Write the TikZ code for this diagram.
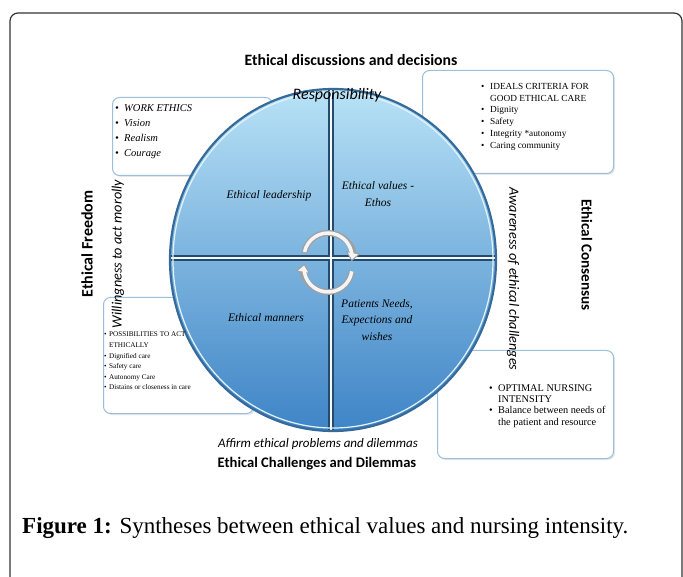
\documentclass[tikz,border=0pt]{standalone}
\usepackage{fontspec}
\setmainfont{Liberation Serif}
\newfontfamily\lblfont{Carlito}
\usetikzlibrary{arrows.meta,calc,shadows}

\definecolor{rimblue}{HTML}{356A9A}
\definecolor{toplight}{HTML}{B8E2F6}
\definecolor{botdark}{HTML}{3E84C6}
\definecolor{boxedge}{HTML}{9CBFDB}
\definecolor{frameline}{HTML}{333333}

\newcommand{\bul}{\makebox[9pt][l]{\textbullet}}
\newcommand{\cnt}{\hspace*{9pt}}
\newcommand{\sbul}{\makebox[5pt][l]{\textbullet}}
\newcommand{\scnt}{\hspace*{5pt}}

\begin{document}
\begin{tikzpicture}[x=1pt,y=-1pt,
  quad/.style={font=\fontsize{11.5}{16.5}\selectfont\itshape, align=center},
  heading/.style={font=\lblfont\bfseries\fontsize{15.8}{17}\selectfont},
  side/.style={font=\lblfont\itshape\fontsize{14.2}{16}\selectfont},
  infobox/.style={draw=boxedge, line width=1pt, rounded corners=7pt, fill=white,
    drop shadow={opacity=0.2, shadow xshift=1.5pt, shadow yshift=-1.5pt},
    anchor=north west, inner sep=0pt},
  items/.style={align=left, anchor=north west, inner sep=0pt},
  turn/.style={gray!75, line width=6pt, -{Triangle[length=9pt,width=15pt,fill=white!92!gray,line width=1pt]}}]
		\useasboundingbox (0,0) rectangle (683,577);
		% outer frame
		\draw[frameline, line width=1.2pt, rounded corners=8pt] (10,580)--(10,13)--(682,13)--(682,580);
		% boxes behind the circle
		\node[infobox, minimum width=160, minimum height=78] (workbox) at (112,97) {};
		\node[infobox, minimum width=191, minimum height=103] (idealbox) at (422,70) {};
		\node[infobox, minimum width=150, minimum height=116] (possbox) at (103,297) {};
		\node[infobox, minimum width=176, minimum height=108] (optbox) at (437,350) {};
		% the wheel
		\coordinate (O) at (333,260);
		\fill[top color=toplight, bottom color=botdark] (O) ellipse [x radius=163, y radius=171];
		\begin{scope}
			\clip (O) ellipse [x radius=163, y radius=171];
			\draw[rimblue!70!black, line width=6.5pt] (331,80)--(331,440);
			\draw[rimblue!70!black, line width=6.5pt] (160,258)--(505,258);
			\draw[white!85!toplight, line width=2.5pt] (331,80)--(331,440);
			\draw[white!85!toplight, line width=2.5pt] (160,258)--(505,258);
		\end{scope}
		\draw[white!60!toplight, line width=1.2pt] (O) ellipse [x radius=160, y radius=168];
		\draw[rimblue, line width=2.2pt] (O) ellipse [x radius=163, y radius=171];
		% turning arrows
		\draw[turn] (328,257) ++(190:24) arc[start angle=190, end angle=370, radius=24];
		\draw[white!92!gray, line width=3.5pt] (328,257) ++(192:24) arc[start angle=192, end angle=358, radius=24];
		\draw[turn] (328,268) ++(10:24) arc[start angle=10, end angle=190, radius=24];
		\draw[white!92!gray, line width=3.5pt] (328,268) ++(8:24) arc[start angle=8, end angle=178, radius=24];
		% quadrants
		\node[quad] (leader) at (269,196) {Ethical leadership};
		\node[quad] (values) at (378,194) {Ethical values -\\Ethos};
		\node[quad] (manner) at (266,318) {Ethical manners};
		\node[quad] (needs) at (377,320) {Patients Needs,\\Expections and\\wishes};
		% box texts
		\node[items, font=\fontsize{10.5}{15}\selectfont\itshape] (worktxt) at (115,104)
			{\bul WORK ETHICS\\\bul Vision\\\bul Realism\\\bul Courage};
		\node[items, font=\fontsize{9.3}{11.8}\selectfont] (idealtxt) at (481,83)
			{\bul IDEALS CRITERIA FOR\\\cnt GOOD ETHICAL CARE\\\bul Dignity\\\bul Safety\\\bul Integrity *autonomy\\\bul Caring community};
		\node[items, font=\fontsize{7.2}{10.6}\selectfont] (posstxt) at (104,332)
			{\sbul POSSIBILITIES TO ACT\\\scnt ETHICALLY\\\sbul Dignified care\\\sbul Safety care\\\sbul Autonomy Care\\\sbul Distains or closeness in care};
		\node[items, font=\fontsize{10.3}{11.4}\selectfont] (opttxt) at (489,384)
			{\bul OPTIMAL NURSING\\\cnt INTENSITY\\\bul Balance between needs of\\\cnt the patient and resource};
		% labels round the wheel
		\node[heading] (top) at (351,60) {Ethical discussions and decisions};
		\node[side, font=\lblfont\itshape\fontsize{16}{17}\selectfont] (resp) at (337,95) {Responsibility};
		\node[heading, rotate=90, font=\lblfont\bfseries\fontsize{16}{17}\selectfont] (free) at (87,244) {Ethical Freedom};
		\node[side, rotate=90] (will) at (118,254) {Willingness to act morolly};
		\node[heading, rotate=-90, font=\lblfont\bfseries\fontsize{15.2}{17}\selectfont] (cons) at (587,255) {Ethical Consensus};
		\node[side, rotate=-90] (aware) at (513,279) {Awareness of ethical challenges};
		\node[side, font=\lblfont\itshape\fontsize{13}{14}\selectfont] (affirm) at (318,444) {Affirm ethical problems and dilemmas};
		\node[heading, font=\lblfont\bfseries\fontsize{14.6}{16}\selectfont] (bottom) at (317,464) {Ethical Challenges and Dilemmas};
		% caption
		\node[anchor=west, inner sep=0pt, font=\fontsize{23}{26}\selectfont] (cap) at (22,528)
			{\textbf{Figure 1:} Syntheses between ethical values and nursing intensity.};
\end{tikzpicture}
\end{document}
